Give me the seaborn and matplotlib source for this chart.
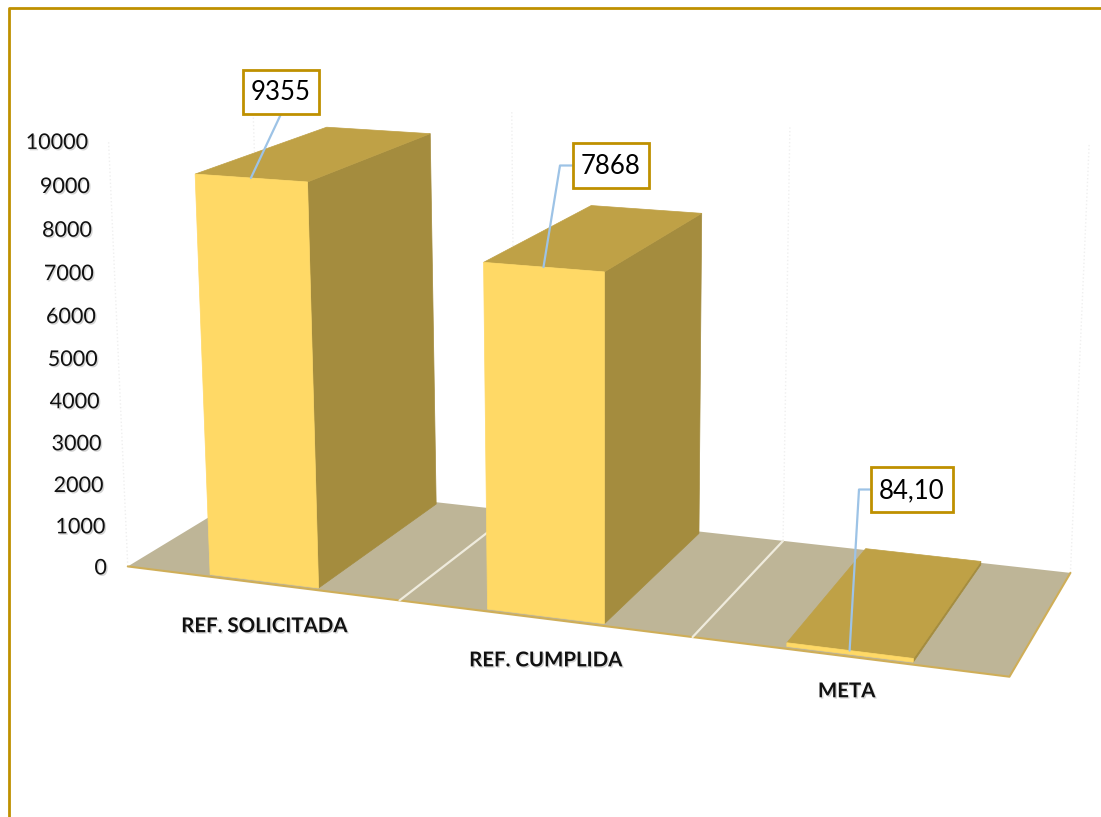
import numpy as np
import matplotlib
matplotlib.use("Agg")
import matplotlib.pyplot as plt
import matplotlib.patheffects as pe
from matplotlib.patches import Polygon, Rectangle
from matplotlib.transforms import IdentityTransform, Transform
import seaborn as sns

categories = ["REF. SOLICITADA", "REF. CUMPLIDA", "META"]
values = [9355, 7868, 84.10]
value_labels = ["9355", "7868", "84,10"]
y_ticks = [0, 1000, 2000, 3000, 4000, 5000, 6000, 7000, 8000, 9000, 10000]

W, H = 1101, 817
FRONT = "#FFD966"
SIDE = "#A48C3E"
TOP = "#BFA146"
FLOOR = "#BEB597"
GOLD = "#BF9000"
LEADER = "#9DC3E6"
Z0, Z1 = 0.02, 0.98  # bar depth inside the floor

# camera of the fake 3d view: (x + .5, value / 10000, depth, 1) -> image pixels
CAMERA = np.array([
    [257.255235, -23.417638, 164.509907, 127.78577],
    [12.204086, -430.953471, -33.563091, 566.433372],
    [-0.036285, -0.038574, 0.102915, 1.0],
])


def project(x, y, z):
    q = CAMERA @ np.array([x + 0.5, y / 10000, z, 1.0])
    return q[0] / q[2], H - q[1] / q[2]


class FrontFace(Transform):
    # maps the data coords of the seaborn bars onto the tilted front plane
    input_dims = output_dims = 2
    is_affine = False

    def __init__(self, z):
        super().__init__()
        self.z = z

    def transform_non_affine(self, values):
        return np.array([project(a, b, self.z) for a, b in values])


def main() -> None:
    sns.set_theme(style="white")
    plt.rcParams["font.family"] = ["Lato", "DejaVu Sans"]
    fig = plt.figure(figsize=(W / 100, H / 100), dpi=100)
    ax = fig.add_axes([0, 0, 1, 1])
    sns.barplot(x=categories, y=values, color=FRONT, saturation=1, width=0.4, ax=ax, zorder=4)
    ax.set_xlim(-0.5, 2.5)
    ax.set_ylim(0, 10000)
    ax.axis("off")
    identity = IdentityTransform()

    # floor
    floor = [project(-0.5, 0, 0), project(2.5, 0, 0), project(2.5, 0, 1), project(-0.5, 0, 1)]
    ax.add_patch(Polygon(floor, closed=True, facecolor=FLOOR, edgecolor="none",
                         transform=identity, zorder=1))
    edge = [project(-0.5, 0, 0), project(2.5, 0, 0), project(2.5, 0, 1)]
    ax.plot(*zip(*edge), color="#CFAE58", lw=1.5, transform=identity, zorder=1.5)
    for b in [0.5, 1.5]:
        ax.plot(*zip(project(b, 0, 0), project(b, 0, 1)), color="#EFEBDD", lw=1.6,
                transform=identity, zorder=1.5)

    # faint wall lines
    for x, z in [(-0.5, 0), (-0.5, 1), (0.5, 1), (1.5, 1), (2.5, 1)]:
        ax.plot(*zip(project(x, 0, z), project(x, 10000, z)), color="#EFEFEF", lw=1, ls=":",
                transform=identity, zorder=0.5)

    # sides and tops come from the bars seaborn drew
    front = FrontFace(Z0)
    bars = list(ax.patches)[:len(values)]
    for bar in bars:
        x0 = bar.get_x()
        x1 = x0 + bar.get_width()
        h = bar.get_height()
        bar.set_transform(front)
        bar.set_edgecolor(FRONT)
        bar.set_linewidth(0.5)
        bar.set_clip_on(False)
        for pts, color, zo in [
            ([(x1, 0, Z0), (x1, h, Z0), (x1, h, Z1), (x1, 0, Z1)], SIDE, 2),
            ([(x0, h, Z0), (x1, h, Z0), (x1, h, Z1), (x0, h, Z1)], TOP, 3),
        ]:
            ax.add_patch(Polygon([project(*p) for p in pts], closed=True, facecolor=color,
                                 edgecolor=color, linewidth=0.5, transform=identity, zorder=zo))

    shadow = [pe.SimplePatchShadow(offset=(1, -1), shadow_rgbFace="#888888", alpha=0.35), pe.Normal()]

    # value axis labels follow the left edge of the floor
    for t in y_ticks:
        px, py = project(-0.5, t, 0)
        ax.text(px - 21, py - 2, str(t), ha="right", va="center", fontsize=15.5, color="#111111",
                transform=identity, path_effects=shadow)

    # category labels under the front of each bar
    label_drop = [(0, 45), (0, 44), (-3, 37)]
    for bar, name, (dx, dy) in zip(bars, categories, label_drop):
        cx = bar.get_x() + bar.get_width() / 2
        px, py = project(cx, 0, Z0)
        ax.text(px + dx, py - dy, name, ha="center", va="center", fontsize=14.7, fontweight="bold",
                color="#111111", transform=identity, path_effects=shadow)

    # data labels: box left, top, width, height, and leader elbow, in image pixels
    boxes = [(243, 70, 76, 44, None), (573, 143, 76, 45, 560), (871, 467, 82, 45, 859)]
    for bar, label, (bx, by, bw, bh, elbow) in zip(bars, value_labels, boxes):
        cx = bar.get_x() + bar.get_width() / 2
        anchor = project(cx, bar.get_height(), Z0)
        mid = H - (by + bh / 2)
        if elbow is None:
            path = [(bx + bw / 2, H - by - bh), anchor]
        else:
            path = [(bx, mid), (elbow, mid), anchor]
        ax.plot(*zip(*path), color=LEADER, lw=1.6, transform=identity, zorder=5)
        ax.add_patch(Rectangle((bx, H - by - bh), bw, bh, facecolor="white", edgecolor=GOLD,
                               linewidth=2, transform=identity, zorder=6))
        ax.text(bx + bw / 2, mid - 1, label, ha="center", va="center", fontsize=18.5, color="black",
                transform=identity, zorder=7)

    # chart frame, only left and top are inside the crop
    fig.add_artist(plt.Line2D([9, 9, W], [0, H - 8, H - 8], color=GOLD, lw=2, transform=identity))

    fig.savefig("out.png", dpi=100, facecolor="white")


if __name__ == "__main__":
    main()
